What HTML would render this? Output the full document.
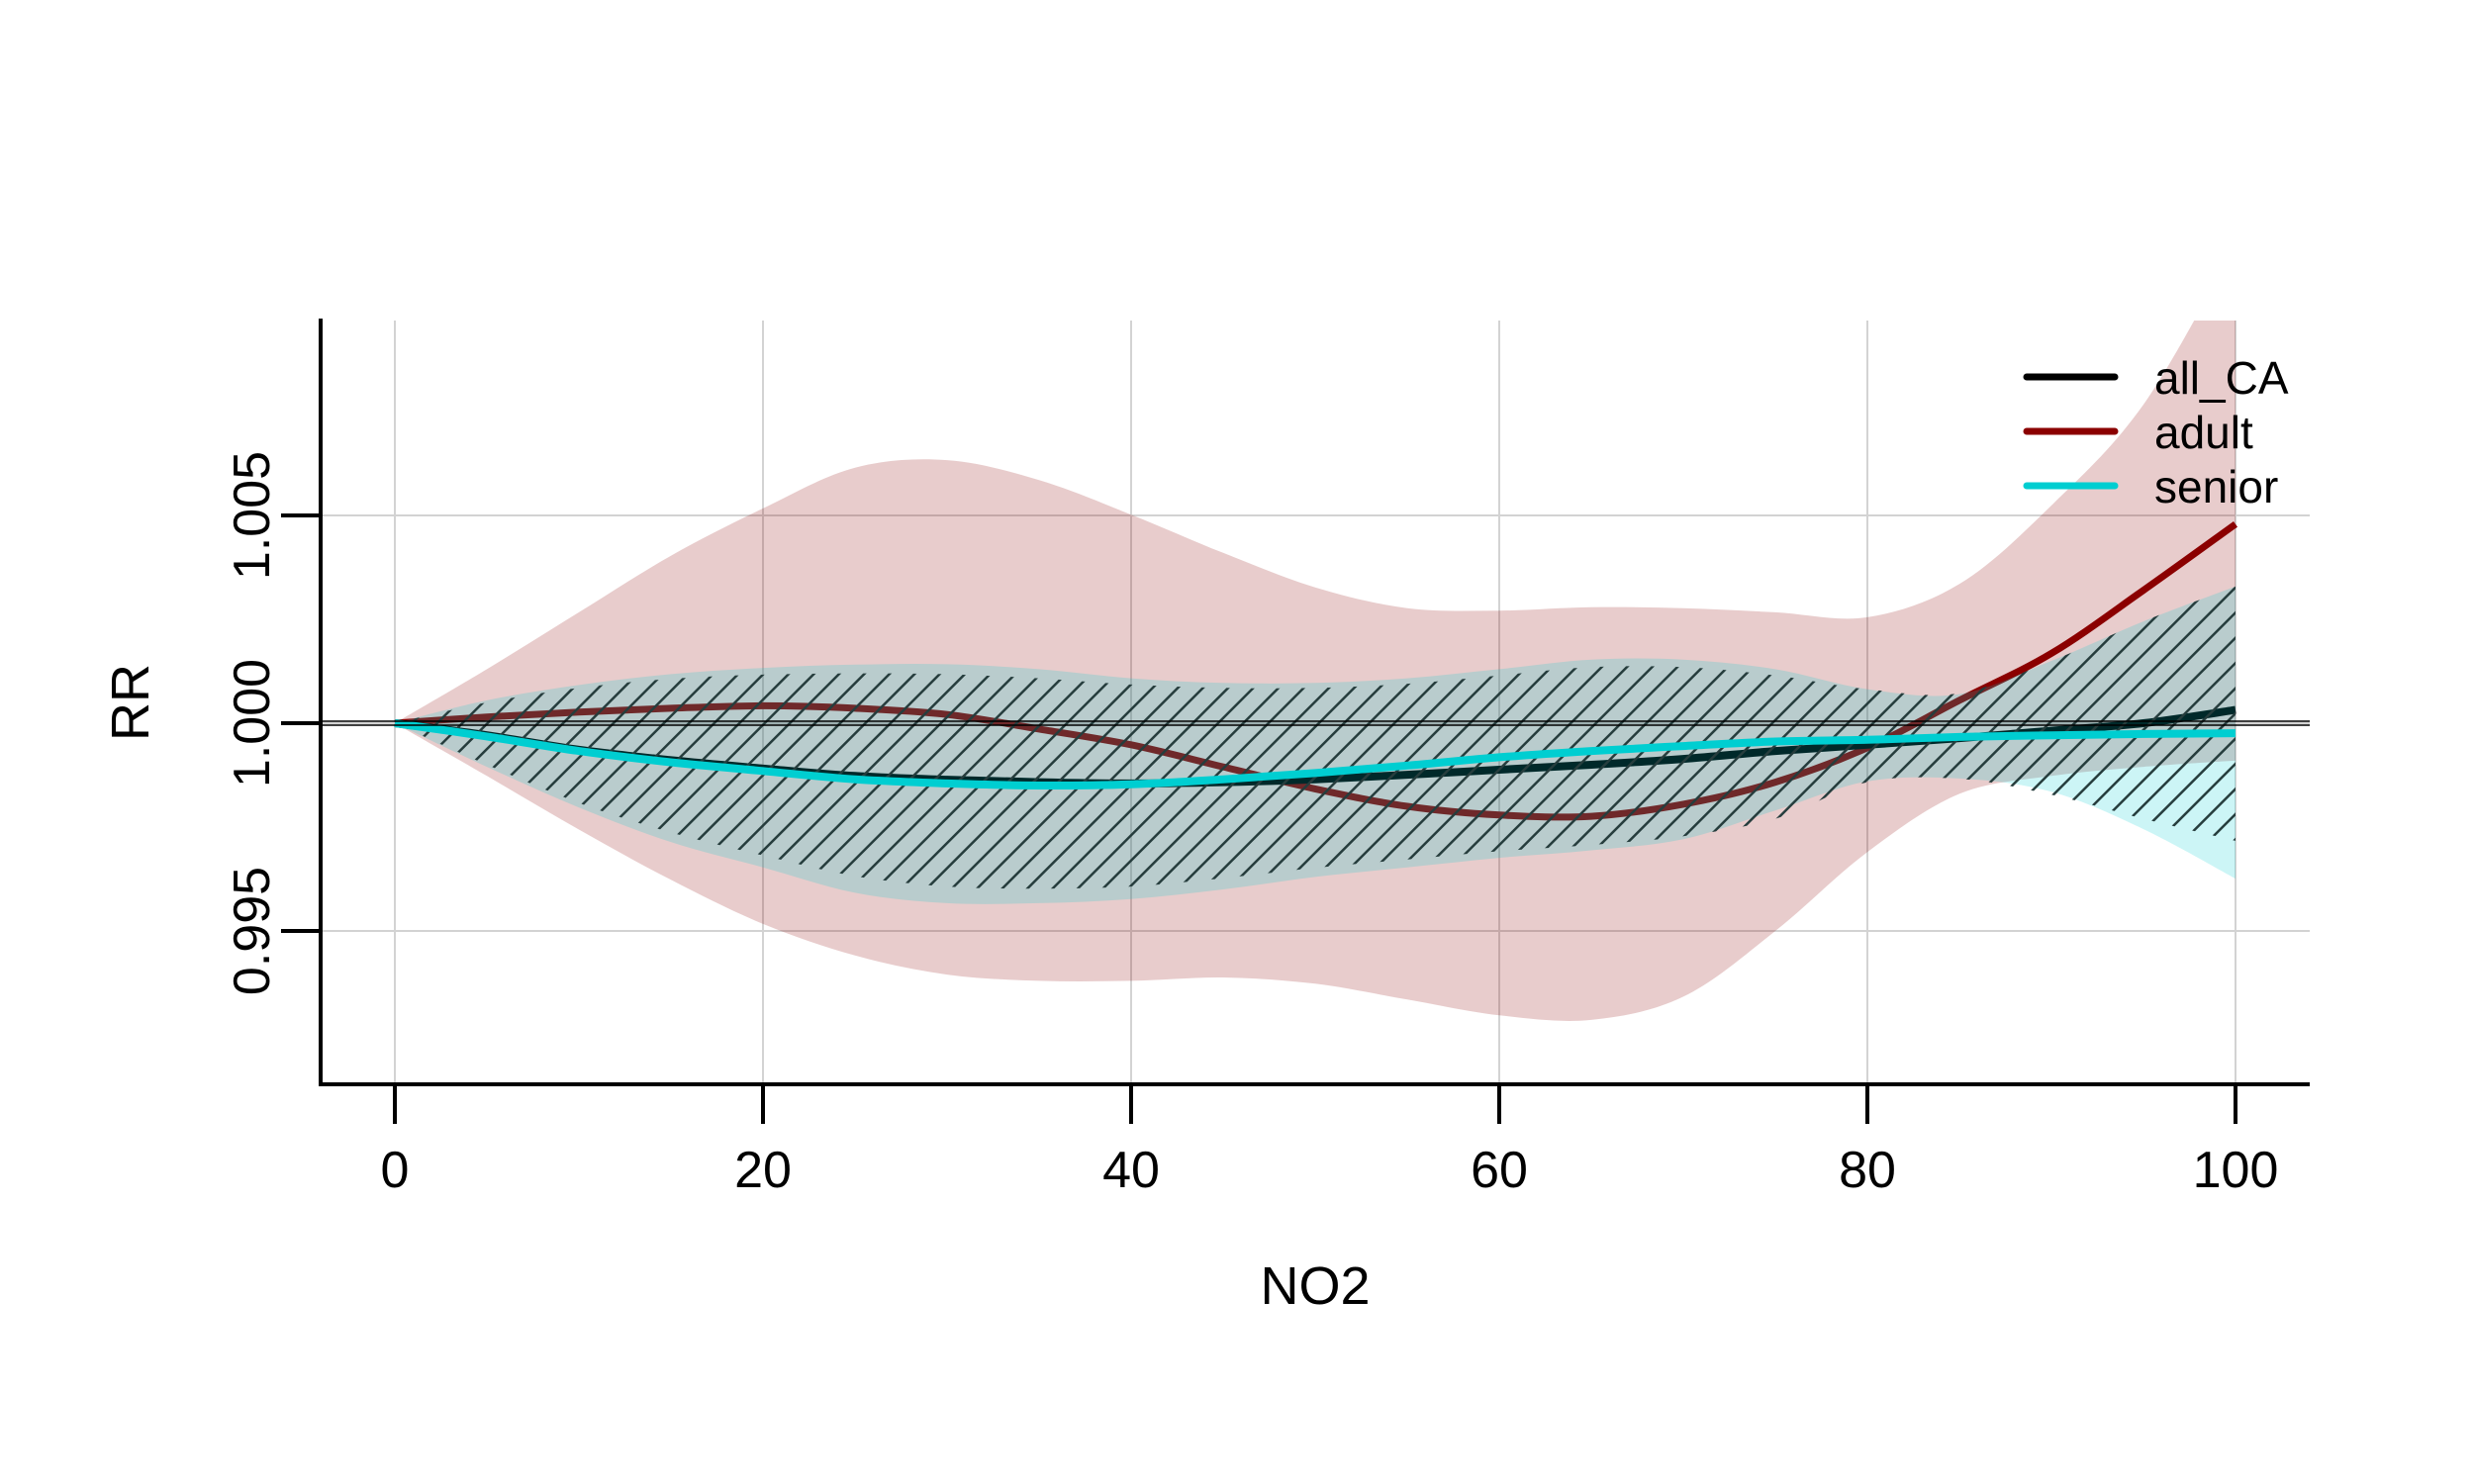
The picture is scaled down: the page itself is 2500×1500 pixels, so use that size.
<!DOCTYPE html>
<html><head><meta charset="utf-8"><style>
html,body{margin:0;padding:0;background:#fff;}
svg{display:block;font-family:"Liberation Sans",Arial,sans-serif;}
</style></head><body>
<svg id="chart" width="2500" height="1500" viewBox="0 0 2500 1500" xmlns="http://www.w3.org/2000/svg">
<defs>
<clipPath id="plotclip"><rect x="324" y="324" width="2010" height="772"/></clipPath>
<pattern id="hatch" patternUnits="userSpaceOnUse" width="18" height="18" patternTransform="rotate(45)">
<line x1="0" y1="0" x2="0" y2="18" stroke="#263d3d" stroke-width="5"/>
</pattern>
</defs>
<g id="grid"></g>
<g id="plot" clip-path="url(#plotclip)"></g>
<g id="axes"></g>
<g id="legend">
<line x1="2048" y1="381" x2="2137" y2="381" stroke="#000" stroke-width="7" stroke-linecap="round"/>
<text x="2177" y="398" font-size="46">all_CA</text>
<line x1="2048" y1="436" x2="2137" y2="436" stroke="#8B0000" stroke-width="7" stroke-linecap="round"/>
<text x="2177" y="453" font-size="46">adult</text>
<line x1="2048" y1="491" x2="2137" y2="491" stroke="#00CED1" stroke-width="7" stroke-linecap="round"/>
<text x="2177" y="508" font-size="46">senior</text>
</g>
<text x="1329" y="1318" font-size="54" text-anchor="middle">NO2</text>
<text transform="translate(150,710) rotate(-90)" font-size="54" text-anchor="middle">RR</text>
</svg>
<script>
const xs = [0,5,10,15,20,25,30,35,40,45,50,55,60,65,70,75,80,85,90,95,100];
const allLine = [1,0.99971,0.99936,0.99911,0.99891,0.99873,0.99864,0.99858,0.99855,0.99858,0.99865,0.99876,0.99888,0.999,0.99914,0.99933,0.99948,0.99964,0.99982,1.0,1.00032];
const allUpper = [1,1.0005,1.00085,1.00107,1.00117,1.0012,1.00118,1.00108,1.00093,1.00085,1.00085,1.00095,1.00115,1.00135,1.00135,1.00115,1.00082,1.00072,1.0015,1.00245,1.00329];
const allLower = [1,0.999,0.99808,0.99737,0.99682,0.99632,0.99607,0.99602,0.99607,0.99627,0.99652,0.99672,0.99692,0.99707,0.99728,0.9977,0.99858,0.99866,0.99828,0.9977,0.99717];
const adultLine = [1,1.00015,1.00027,1.00036,1.00042,1.00036,1.00021,0.99986,0.99948,0.99895,0.99842,0.998,0.99779,0.99776,0.99805,0.99858,0.99941,1.00055,1.00168,1.0032,1.00479];
const adultUpper = [1,1.0013,1.00267,1.00403,1.00517,1.00615,1.00633,1.00585,1.00502,1.0041,1.00327,1.00277,1.00271,1.00279,1.00277,1.00267,1.00255,1.00335,1.00524,1.00767,1.0115];
const adultLower = [1,0.99873,0.99744,0.99623,0.99517,0.99441,0.99395,0.9938,0.9938,0.99388,0.99373,0.99335,0.99297,0.99286,0.99342,0.995,0.9969,0.9983,0.99873,0.99895,0.9991];
const seniorLine = [1,0.99968,0.99933,0.99906,0.99885,0.99865,0.99855,0.9985,0.99853,0.99865,0.9988,0.99898,0.99918,0.99933,0.99945,0.99956,0.9996,0.99967,0.99971,0.99974,0.99976];
const seniorUpper = [1,1.00055,1.00092,1.00118,1.00133,1.00141,1.00142,1.0013,1.00108,1.00097,1.00097,1.00108,1.0013,1.00153,1.00153,1.0013,1.00082,1.0007,1.0015,1.00245,1.00329];
const seniorLower = [1,0.99895,0.99797,0.99714,0.99653,0.99592,0.99567,0.99567,0.99577,0.996,0.9963,0.99653,0.99676,0.99694,0.99721,0.9979,0.9986,0.99867,0.99835,0.99745,0.99626];
const xTicks = [0,20,40,60,80,100];
const yTicks = [0.995,1.000,1.005];
const yTickLabels = ["0.995","1.000","1.005"];

const NS = "http://www.w3.org/2000/svg";
function X(v){ return 399 + (v-0)*(2259-399)/100; }
function Y(v){ return 731 - (v-1)*42000; }
function mk(tag, attrs, parent){ const e=document.createElementNS(NS,tag); for(const k in attrs) e.setAttribute(k,attrs[k]); parent.appendChild(e); return e; }
function smooth(pts){
  let d = "M"+pts[0][0].toFixed(1)+","+pts[0][1].toFixed(1);
  for(let i=0;i<pts.length-1;i++){
    const p0=pts[Math.max(i-1,0)], p1=pts[i], p2=pts[i+1], p3=pts[Math.min(i+2,pts.length-1)];
    const c1=[p1[0]+(p2[0]-p0[0])/6, p1[1]+(p2[1]-p0[1])/6];
    const c2=[p2[0]-(p3[0]-p1[0])/6, p2[1]-(p3[1]-p1[1])/6];
    d += " C"+c1[0].toFixed(1)+","+c1[1].toFixed(1)+" "+c2[0].toFixed(1)+","+c2[1].toFixed(1)+" "+p2[0].toFixed(1)+","+p2[1].toFixed(1);
  }
  return d;
}
function pts(arr){ return xs.map((x,i)=>[X(x),Y(arr[i])]); }
function band(up, lo){
  const u = smooth(pts(up));
  const l = smooth(pts(lo).reverse()).replace(/^M/,"L");
  return u+" "+l+" Z";
}
const grid = document.getElementById('grid');
xTicks.forEach(t=>{
  const g = mk('line',{x1:X(t),x2:X(t),y1:324,y2:1096,stroke:'#d3d3d3','stroke-width':2},grid);
  
  
});
yTicks.forEach(t=>{
  const g = mk('line',{x1:324,x2:2334,y1:Y(t),y2:Y(t),stroke:'#d3d3d3','stroke-width':2},grid);
  
  
});
const plot = document.getElementById('plot');
let e;
e = mk('path',{d:band(adultUpper,adultLower),fill:'#8B0000','fill-opacity':0.2,stroke:'none'},plot);


e = mk('path',{d:smooth(pts(adultLine)),fill:'none',stroke:'#8B0000','stroke-width':7},plot);


e = mk('path',{d:smooth(pts(allLine)),fill:'none',stroke:'#000','stroke-width':8},plot);


e = mk('path',{d:band(seniorUpper,seniorLower),fill:'#00CED1','fill-opacity':0.2,stroke:'none'},plot);


e = mk('path',{d:band(allUpper,allLower),fill:'url(#hatch)',stroke:'none'},plot);


e = mk('line',{x1:324,x2:2334,y1:Y(1)-2,y2:Y(1)-2,stroke:'#000','stroke-width':1.5},document.getElementById('chart'));


e = mk('line',{x1:324,x2:2334,y1:Y(1)+2,y2:Y(1)+2,stroke:'#000','stroke-width':1.5},document.getElementById('chart'));


e = mk('path',{d:smooth(pts(seniorLine)),fill:'none',stroke:'#00CED1','stroke-width':8},plot);



const axes = document.getElementById('axes');
e = mk('line',{x1:324,x2:324,y1:322,y2:1098,stroke:'#000','stroke-width':4},axes);


e = mk('line',{x1:322,x2:2334,y1:1096,y2:1096,stroke:'#000','stroke-width':4},axes);


xTicks.forEach(t=>{
  const tk = mk('line',{x1:X(t),x2:X(t),y1:1096,y2:1136,stroke:'#000','stroke-width':4},axes);
  
  
  const lb = mk('text',{x:X(t),y:1200,'font-size':52,'text-anchor':'middle'},axes);
  lb.textContent = String(t);
  
  
});
yTicks.forEach((t,i)=>{
  const tk = mk('line',{x1:284,x2:324,y1:Y(t),y2:Y(t),stroke:'#000','stroke-width':4},axes);
  
  
  const lb = mk('text',{transform:'translate(272,'+Y(t)+') rotate(-90)','font-size':52,'text-anchor':'middle'},axes);
  lb.textContent = yTickLabels[i];
  
  
});
</script>
</body></html>
